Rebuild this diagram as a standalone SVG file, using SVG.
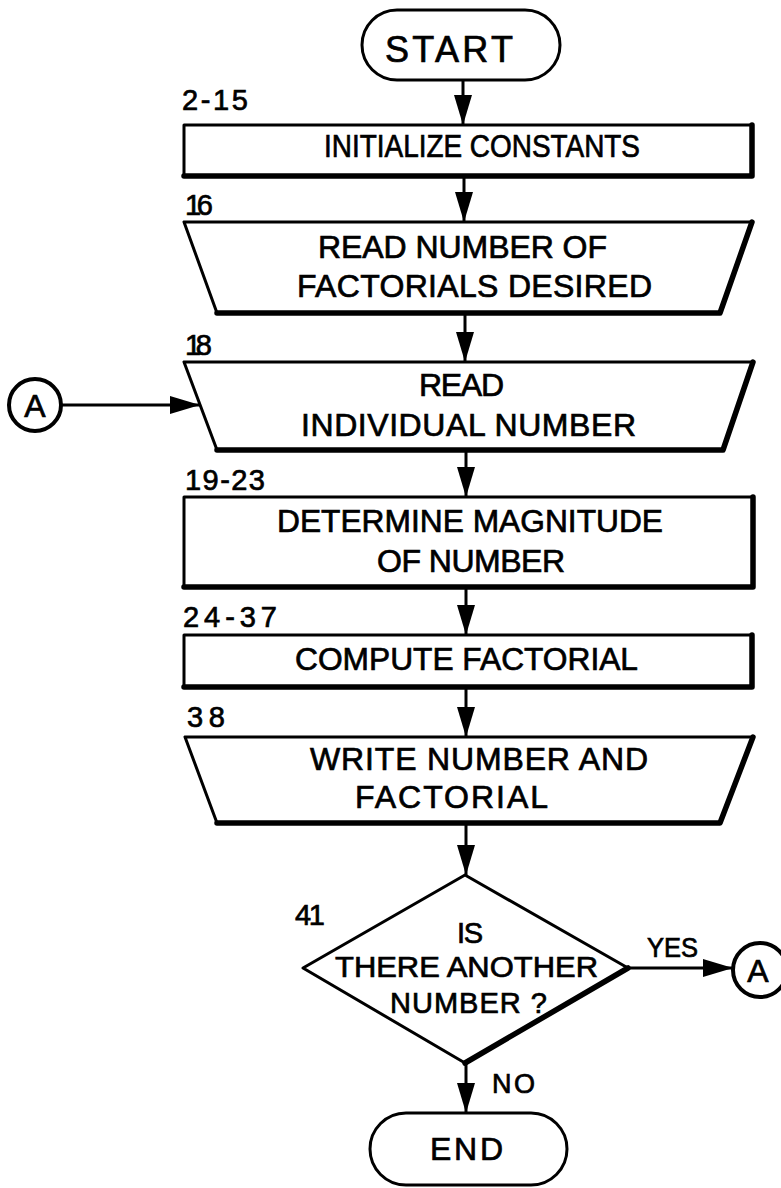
<svg xmlns="http://www.w3.org/2000/svg" width="781" height="1188" viewBox="0 0 781 1188">
<style>
text{font-family:"Liberation Sans",Arial,sans-serif;fill:#000;stroke:#000;stroke-width:0.7}
.t{font-size:32px}
.d{font-size:29px}
.lbl{font-size:29px}
.sm{font-size:27px}
.sh{fill:#fff;stroke:#000;stroke-width:3;stroke-linejoin:round}
.hv{fill:none;stroke:#000;stroke-width:5.5;stroke-linecap:round;stroke-linejoin:round}
.cn{fill:none;stroke:#000;stroke-width:3}
</style>
<defs>
<marker id="ah" viewBox="0 0 30 18" refX="30" refY="9" markerWidth="30" markerHeight="18" markerUnits="userSpaceOnUse" orient="auto">
<path d="M0,0 L30,9 L0,18 Z" fill="#000"/>
</marker>
</defs>
<rect width="781" height="1188" fill="#fff"/>
<g id="connectors">
<line class="cn" x1="463" y1="80" x2="463" y2="125" marker-end="url(#ah)"/>
<line class="cn" x1="464" y1="176" x2="464" y2="222" marker-end="url(#ah)"/>
<line class="cn" x1="465" y1="313" x2="465" y2="362" marker-end="url(#ah)"/>
<line class="cn" x1="466" y1="450" x2="466" y2="497" marker-end="url(#ah)"/>
<line class="cn" x1="466" y1="587" x2="466" y2="635" marker-end="url(#ah)"/>
<line class="cn" x1="466" y1="687" x2="466" y2="737" marker-end="url(#ah)"/>
<line class="cn" x1="466" y1="823" x2="466" y2="875" marker-end="url(#ah)"/>
<line class="cn" x1="466" y1="1063" x2="466" y2="1113" marker-end="url(#ah)"/>
<line class="cn" x1="62" y1="405" x2="200" y2="405" marker-end="url(#ah)"/>
<line class="cn" x1="628" y1="968" x2="733" y2="968" marker-end="url(#ah)"/>
<text class="sm" x="647" y="957" textLength="51" lengthAdjust="spacingAndGlyphs">YES</text>
<text class="sm" x="492" y="1093" textLength="43">NO</text>
</g>
<g id="start">
<rect class="sh" x="362" y="10" width="198" height="70" rx="35" stroke-width="3.5"/>
<text x="385" y="62" font-size="36" textLength="128">START</text>
</g>
<g id="n2-15">
<text class="lbl" x="182" y="110" textLength="66">2-15</text>
<rect class="sh" x="184" y="125" width="568" height="51"/>
<polyline class="hv" points="184,176 752,176 752,125"/>
<text class="t" x="324" y="157" textLength="316" lengthAdjust="spacingAndGlyphs">INITIALIZE CONSTANTS</text>
</g>
<g id="n16">
<text class="lbl" x="185" y="215" textLength="28">16</text>
<polygon class="sh" points="184,222 752,222 720,313 217,313"/>
<polyline class="hv" points="217,313 720,313 752,222"/>
<text class="t" x="318" y="258" textLength="289">READ NUMBER OF</text>
<text class="t" x="297" y="297" textLength="355">FACTORIALS DESIRED</text>
</g>
<g id="n18">
<text class="lbl" x="185" y="355" textLength="27">18</text>
<polygon class="sh" points="184,362 753,362 723,450 217,450"/>
<polyline class="hv" points="217,450 723,450 753,362"/>
<text class="t" x="419" y="396" textLength="85">READ</text>
<text class="t" x="301" y="436" textLength="335">INDIVIDUAL NUMBER</text>
</g>
<g id="connA-in">
<circle cx="35" cy="405" r="26" fill="#fff" stroke="#000" stroke-width="4"/>
<text x="35" y="417" text-anchor="middle" font-size="32">A</text>
</g>
<g id="n19-23">
<text class="lbl" x="185" y="490" textLength="80">19-23</text>
<rect class="sh" x="184" y="497" width="569" height="90"/>
<polyline class="hv" points="184,587 753,587 753,497"/>
<text class="t" x="277" y="532" textLength="386" lengthAdjust="spacingAndGlyphs">DETERMINE MAGNITUDE</text>
<text class="t" x="377" y="572" textLength="188">OF NUMBER</text>
</g>
<g id="n24-37">
<text class="lbl" x="183" y="627" textLength="94">24-37</text>
<rect class="sh" x="184" y="635" width="568" height="52"/>
<polyline class="hv" points="184,687 752,687 752,635"/>
<text class="t" x="295" y="670" textLength="343" lengthAdjust="spacingAndGlyphs">COMPUTE FACTORIAL</text>
</g>
<g id="n38">
<text class="lbl" x="187" y="727" textLength="38">38</text>
<polygon class="sh" points="185,737 753,737 720,823 217,823"/>
<polyline class="hv" points="217,823 720,823 753,737"/>
<text class="t" x="310" y="770" textLength="338">WRITE NUMBER AND</text>
<text class="t" x="355" y="808" textLength="193">FACTORIAL</text>
</g>
<g id="n41">
<text class="lbl" x="295" y="925" textLength="30">41</text>
<polygon class="sh" points="465,875 628,968 465,1063 303,968"/>
<polyline class="hv" points="628,968 465,1063"/>
<text class="d" x="457" y="943" textLength="26">IS</text>
<text class="d" x="335" y="977" textLength="263" lengthAdjust="spacingAndGlyphs">THERE ANOTHER</text>
<text class="d" x="390" y="1013" textLength="157">NUMBER ?</text>
</g>
<g id="connA-out">
<circle cx="760" cy="970" r="27" fill="#fff" stroke="#000" stroke-width="4"/>
<text x="758" y="982" text-anchor="middle" font-size="32">A</text>
</g>
<g id="end">
<rect class="sh" x="370" y="1113" width="197" height="72" rx="36" stroke-width="3.5"/>
<text class="t" x="430" y="1160" textLength="73">END</text>
</g>
</svg>
